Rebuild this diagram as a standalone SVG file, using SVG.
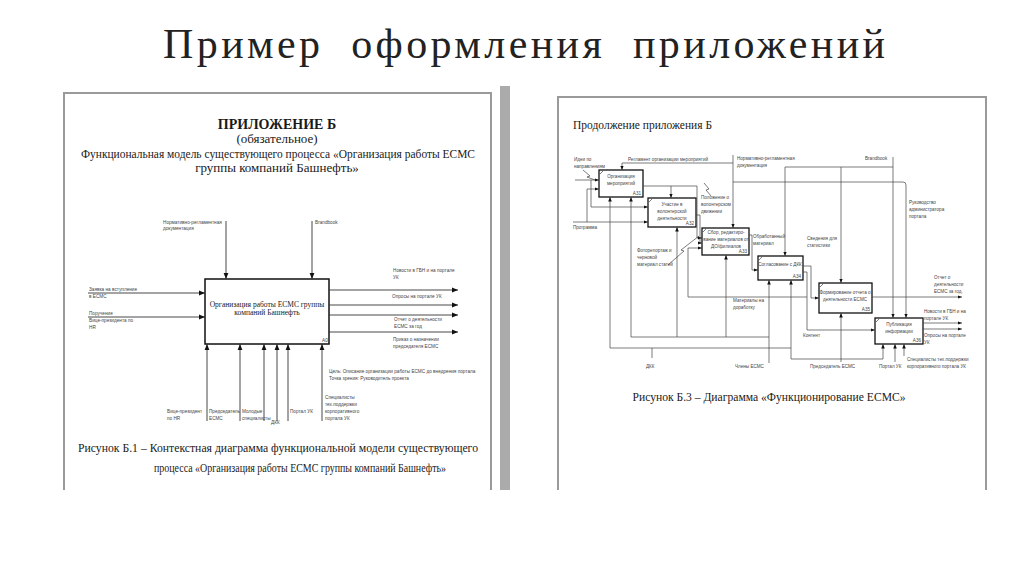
<svg xmlns="http://www.w3.org/2000/svg" width="1024" height="574" viewBox="0 0 1024 574">
<defs>
<marker id="ah" viewBox="0 0 6 6" refX="6" refY="3" markerWidth="6" markerHeight="6" markerUnits="userSpaceOnUse" orient="auto">
<path d="M0,0.6 L6,3 L0,5.4 Z" fill="#111"/>
</marker>
<marker id="ahs" viewBox="0 0 6 6" refX="6" refY="3" markerWidth="4.5" markerHeight="4.5" markerUnits="userSpaceOnUse" orient="auto">
<path d="M0,0.6 L6,3 L0,5.4 Z" fill="#111"/>
</marker>
</defs>
<style>
.frame{fill:none;stroke:#9a9a9a;stroke-width:2}
.title{font-family:"Liberation Serif","DejaVu Serif",serif;font-size:42px;fill:#222}
.serif{font-family:"Liberation Serif","DejaVu Serif",serif;fill:#1a1a1a}
.sm{font-family:"Liberation Sans","DejaVu Sans",sans-serif;font-size:4.7px;fill:#444}
.sm4{font-family:"Liberation Sans","DejaVu Sans",sans-serif;font-size:4.6px;fill:#444}
.box{fill:#fff;stroke:#111;stroke-width:1.5}
.boxs{fill:#fff;stroke:#111;stroke-width:1.3}
.ln{fill:none;stroke:#333;stroke-width:0.9}
.lns{fill:none;stroke:#444;stroke-width:0.7}
.mid{text-anchor:middle}
.end{text-anchor:end}
</style>
<rect x="0" y="0" width="1024" height="574" fill="#fff"/>

<text class="title" x="163" y="58" textLength="722" lengthAdjust="spacing" xml:space="preserve">Пример  оформления  приложений</text>

<g id="page-left">
<path class="frame" d="M64,490 V93 H491 V490"/>
<rect x="500" y="86" width="10" height="404" fill="#ababab"/>
<text class="serif mid" x="277" y="129" font-size="14" font-weight="bold">ПРИЛОЖЕНИЕ Б</text>
<text class="serif mid" x="277" y="143" font-size="13">(обязательное)</text>
<text class="serif mid" x="278" y="158" font-size="13" textLength="394" lengthAdjust="spacingAndGlyphs">Функциональная модель существующего процесса «Организация работы ЕСМС</text>
<text class="serif mid" x="277" y="172" font-size="13">группы компаний Башнефть»</text>
<text class="serif mid" x="278" y="452" font-size="13" textLength="400" lengthAdjust="spacingAndGlyphs">Рисунок Б.1 – Контекстная диаграмма функциональной модели существующего</text>
<text class="serif mid" x="300" y="472" font-size="13" textLength="292" lengthAdjust="spacingAndGlyphs">процесса «Организация работы ЕСМС группы компаний Башнефть»</text>
</g>

<g id="node-A0">
<rect class="box" x="205" y="279" width="124" height="65"/>
<text class="serif mid" x="267" y="307" font-size="7.5">Организация работы ЕСМС группы</text>
<text class="serif mid" x="267" y="315" font-size="7.5">компаний Башнефть</text>
<text class="sm" x="322" y="342">A0</text>
</g>

<g id="connectors-left">
<line class="ln" x1="226" y1="221" x2="226" y2="279" marker-end="url(#ah)"/>
<line class="ln" x1="312" y1="221" x2="312" y2="279" marker-end="url(#ah)"/>
<line class="ln" x1="88" y1="293" x2="205" y2="293" marker-end="url(#ah)"/>
<line class="ln" x1="88" y1="317" x2="205" y2="317" marker-end="url(#ah)"/>
<line class="ln" x1="329" y1="290" x2="458" y2="290" marker-end="url(#ah)"/>
<line class="ln" x1="329" y1="305" x2="458" y2="305" marker-end="url(#ah)"/>
<line class="ln" x1="329" y1="315" x2="458" y2="315" marker-end="url(#ah)"/>
<line class="ln" x1="329" y1="332" x2="458" y2="332" marker-end="url(#ah)"/>
<line class="ln" x1="207" y1="421" x2="207" y2="344" marker-end="url(#ah)"/>
<line class="ln" x1="240" y1="421" x2="240" y2="344" marker-end="url(#ah)"/>
<line class="ln" x1="264" y1="421" x2="264" y2="344" marker-end="url(#ah)"/>
<line class="ln" x1="277" y1="421" x2="277" y2="344" marker-end="url(#ah)"/>
<line class="ln" x1="288" y1="421" x2="288" y2="344" marker-end="url(#ah)"/>
<line class="ln" x1="322" y1="421" x2="322" y2="344" marker-end="url(#ah)"/>
</g>

<g id="labels-left">
<text class="sm" x="163" y="224">Нормативно-регламентная</text>
<text class="sm" x="163" y="230">документация</text>
<text class="sm" x="315" y="224">Brandbook</text>
<text class="sm" x="89" y="291">Заявка на вступление</text>
<text class="sm" x="89" y="298">в ЕСМС</text>
<text class="sm" x="89" y="315">Поручение</text>
<text class="sm" x="89" y="322">Вице-президента по</text>
<text class="sm" x="89" y="329">HR</text>
<text class="sm" x="393" y="272">Новости в ГБН и на портале</text>
<text class="sm" x="393" y="279">УК</text>
<text class="sm" x="392" y="298">Опросы на портале УК</text>
<text class="sm" x="394" y="321">Отчет о деятельности</text>
<text class="sm" x="394" y="328">ЕСМС за год</text>
<text class="sm" x="393" y="341">Приказ о назначении</text>
<text class="sm" x="393" y="348">председателя ЕСМС</text>
<text class="sm" x="329" y="373">Цель: Описание организации работы ЕСМС до внедрения портала</text>
<text class="sm" x="329" y="380">Точка зрения: Руководитель проекта</text>
<text class="sm" x="167" y="413">Вице-президент</text>
<text class="sm" x="167" y="420">по HR</text>
<text class="sm" x="209" y="413">Председатель</text>
<text class="sm" x="209" y="420">ЕСМС</text>
<text class="sm" x="242" y="413">Молодые</text>
<text class="sm" x="242" y="420">специалисты</text>
<text class="sm" x="271" y="424">ДКК</text>
<text class="sm" x="290" y="413">Портал УК</text>
<text class="sm" x="325" y="399">Специалисты</text>
<text class="sm" x="325" y="406">тех.поддержки</text>
<text class="sm" x="325" y="413">корпоративного</text>
<text class="sm" x="325" y="420">портала УК</text>
</g>

<g id="page-right">
<path class="frame" d="M558,490 V97 H986 V490"/>
<text class="serif" x="573" y="129" font-size="13" textLength="139" lengthAdjust="spacingAndGlyphs">Продолжение приложения Б</text>
<text class="serif mid" x="769" y="401" font-size="12" textLength="273" lengthAdjust="spacingAndGlyphs">Рисунок Б.3 – Диаграмма «Функционирование ЕСМС»</text>
</g>

<g id="node-A31">
<rect class="boxs" x="599" y="170" width="44" height="27"/>
<path class="lns" d="M600,174 L603,171"/>
<text class="sm4 mid" x="621" y="178">Организация</text>
<text class="sm4 mid" x="621" y="185">мероприятий</text>
<text class="sm4 end" x="641" y="195">A31</text>
</g>
<g id="node-A32">
<rect class="boxs" x="648" y="198" width="48" height="29"/>
<path class="lns" d="M649,202 L652,199"/>
<text class="sm4 mid" x="672" y="206">Участие в</text>
<text class="sm4 mid" x="672" y="213">волонтерской</text>
<text class="sm4 mid" x="672" y="220">деятельности</text>
<text class="sm4 end" x="694" y="225">A32</text>
</g>
<g id="node-A33">
<rect class="boxs" x="702" y="228" width="47" height="27"/>
<path class="lns" d="M703,232 L706,229"/>
<text class="sm4 mid" x="726" y="234">Сбор, редактиро-</text>
<text class="sm4 mid" x="726" y="241">вание материалов  от</text>
<text class="sm4 mid" x="726" y="248">ДО/филиалов</text>
<text class="sm4 end" x="747" y="253">A33</text>
</g>
<g id="node-A34">
<rect class="boxs" x="758" y="256" width="45" height="24"/>
<path class="lns" d="M759,260 L762,257"/>
<text class="sm4 mid" x="780" y="266">Согласование  с ДКК</text>
<text class="sm4 end" x="801" y="278">A34</text>
</g>
<g id="node-A35">
<rect class="boxs" x="819" y="283" width="53" height="30"/>
<path class="lns" d="M820,287 L823,284"/>
<text class="sm4 mid" x="845" y="294">Формирование отчета о</text>
<text class="sm4 mid" x="845" y="301">деятельности ЕСМС</text>
<text class="sm4 end" x="870" y="311">A35</text>
</g>
<g id="node-A36">
<rect class="boxs" x="875" y="318" width="48" height="26"/>
<path class="lns" d="M876,322 L879,319"/>
<text class="sm4 mid" x="899" y="326">Публикация</text>
<text class="sm4 mid" x="899" y="333">информации</text>
<text class="sm4 end" x="921" y="342">A36</text>
</g>

<g id="connectors-right">
<line class="lns" x1="575" y1="180" x2="599" y2="180" marker-end="url(#ahs)"/>
<path class="lns" d="M583,170 L590,176 L587,177 L595,180"/>
<path class="lns" d="M587,222 V189 H599" marker-end="url(#ahs)"/>
<line class="lns" x1="573" y1="222" x2="648" y2="222" marker-end="url(#ahs)"/>
<path class="lns" d="M591,180 V207 H648" marker-end="url(#ahs)"/>
<path class="lns" d="M733,163 H622 V170" marker-end="url(#ahs)"/>
<line class="lns" x1="733" y1="155" x2="733" y2="228" marker-end="url(#ahs)"/>
<path class="lns" d="M733,182 H903 Q906,182 906,185 V318" marker-end="url(#ahs)"/>
<path class="lns" d="M643,186 H697 V238 H702" marker-end="url(#ahs)"/>
<path class="lns" d="M671,186 V198" marker-end="url(#ahs)"/>
<path class="lns" d="M704,183 L709,189 L706,190 L711,196"/>
<path class="lns" d="M696,215 H700 V243 H702" marker-end="url(#ahs)"/>
<path class="lns" d="M668,265 L684,251 L681,250 L699,236"/>
<path class="lns" d="M749,235 H752 V270 H758" marker-end="url(#ahs)"/>
<path class="lns" d="M803,266 H811 V298 H819" marker-end="url(#ahs)"/>
<path class="lns" d="M803,272 H807 V330 H875" marker-end="url(#ahs)"/>
<path class="lns" d="M807,297 H688 V248 H702" marker-end="url(#ahs)"/>
<line class="lns" x1="893" y1="157" x2="893" y2="318" marker-end="url(#ahs)"/>
<path class="lns" d="M893,167 H785 V256" marker-end="url(#ahs)"/>
<path class="lns" d="M841,167 V283" marker-end="url(#ahs)"/>
<line class="lns" x1="872" y1="297" x2="962" y2="297" marker-end="url(#ahs)"/>
<line class="lns" x1="923" y1="323" x2="962" y2="323" marker-end="url(#ahs)"/>
<line class="lns" x1="923" y1="329" x2="962" y2="329" marker-end="url(#ahs)"/>
<path class="lns" d="M610,348 V197" marker-end="url(#ahs)"/>
<path class="lns" d="M631,337 V197" marker-end="url(#ahs)"/>
<path class="lns" d="M677,337 V227" marker-end="url(#ahs)"/>
<path class="lns" d="M726,337 V255" marker-end="url(#ahs)"/>
<path class="lns" d="M631,337 H769"/>
<path class="lns" d="M769,363 V280" marker-end="url(#ahs)"/>
<path class="lns" d="M652,358 V348 H610"/>
<path class="lns" d="M652,348 H791"/>
<path class="lns" d="M791,359 V280" marker-end="url(#ahs)"/>
<path class="lns" d="M791,359 H883 V344" marker-end="url(#ahs)"/>
<path class="lns" d="M841,362 V313" marker-end="url(#ahs)"/>
<path class="lns" d="M895,362 V344" marker-end="url(#ahs)"/>
<path class="lns" d="M904,356 V344" marker-end="url(#ahs)"/>
</g>

<g id="labels-right">
<text class="sm4" x="574" y="161">Идеи по</text>
<text class="sm4" x="574" y="168">направлениям</text>
<text class="sm4" x="628" y="161">Регламент организации мероприятий</text>
<text class="sm4" x="737" y="160">Нормативно-регламентная</text>
<text class="sm4" x="737" y="167">документация</text>
<text class="sm4" x="865" y="160">Brandbook</text>
<text class="sm4" x="701" y="199">Положение о</text>
<text class="sm4" x="701" y="206">волонтерском</text>
<text class="sm4" x="701" y="213">движении</text>
<text class="sm4" x="909" y="204">Руководство</text>
<text class="sm4" x="909" y="211">администратора</text>
<text class="sm4" x="909" y="218">портала</text>
<text class="sm4" x="573" y="229">Программа</text>
<text class="sm4" x="637" y="252">Фоторепортаж и</text>
<text class="sm4" x="637" y="259">черновой</text>
<text class="sm4" x="637" y="266">материал статей</text>
<text class="sm4" x="753" y="238">Обработанный</text>
<text class="sm4" x="753" y="245">материал</text>
<text class="sm4" x="807" y="240">Сведения для</text>
<text class="sm4" x="807" y="247">статистики</text>
<text class="sm4" x="733" y="302">Материалы на</text>
<text class="sm4" x="733" y="309">доработку</text>
<text class="sm4" x="803" y="337">Контент</text>
<text class="sm4" x="934" y="279">Отчет о</text>
<text class="sm4" x="934" y="286">деятельности</text>
<text class="sm4" x="934" y="293">ЕСМС за год.</text>
<text class="sm4" x="924" y="313">Новости в ГБН и на</text>
<text class="sm4" x="924" y="320">портале УК</text>
<text class="sm4" x="924" y="337">Опросы на портале</text>
<text class="sm4" x="924" y="344">УК</text>
<text class="sm4" x="646" y="368">ДКК</text>
<text class="sm4" x="735" y="368">Члены ЕСМС</text>
<text class="sm4" x="810" y="368">Председатель ЕСМС</text>
<text class="sm4" x="879" y="368">Портал УК</text>
<text class="sm4" x="907" y="361">Специалисты тех.поддержки</text>
<text class="sm4" x="907" y="368">корпоративного портала УК</text>
</g>
</svg>
